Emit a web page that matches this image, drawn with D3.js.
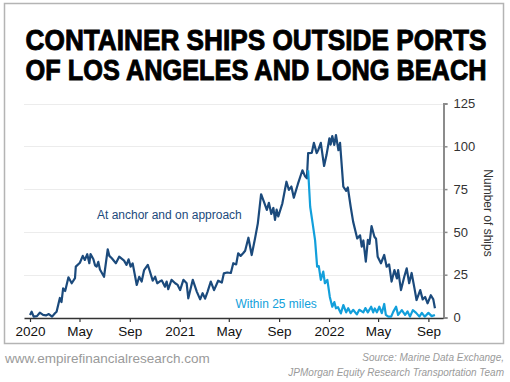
<!DOCTYPE html>
<html>
<head>
<meta charset="utf-8">
<script src="https://cdn.jsdelivr.net/npm/d3@7"></script>
<style>
  html, body { margin: 0; padding: 0; background: #fff; }
  svg { display: block; }
</style>
</head>
<body>
<svg id="chart" width="510" height="382"></svg>
<script>
const titleLines = ["CONTAINER SHIPS OUTSIDE PORTS", "OF LOS ANGELES AND LONG BEACH"];
const yTicks = [0, 25, 50, 75, 100, 125];
const xTickDates = ["2020-01-01","2020-05-01","2020-09-01","2021-01-01","2021-05-01","2021-09-01","2022-01-01","2022-05-01","2022-09-01"];
const xTickLabels = ["2020","May","Sep","2021","May","Sep","2022","May","Sep"];
const seriesNames = ["At anchor and on approach", "Within 25 miles"];
const yAxisTitle = "Number of ships";
const footerLeft = "www.empirefinancialresearch.com";
const footerRight = ["Source: Marine Data Exchange,", "JPMorgan Equity Research Transportation Team"];

const anchorData = [
["2020-01-01",1.5],["2020-01-05",3.4],["2020-01-10",0.5],["2020-01-18",0.8],["2020-01-25",2.8],["2020-02-02",1.5],
["2020-02-09",1.2],["2020-02-16",2.0],["2020-02-24",0.5],["2020-03-02",2.5],["2020-03-06",3.4],["2020-03-14",11.4],
["2020-03-18",9],["2020-03-22",17],["2020-03-27",15.5],["2020-04-04",23.5],["2020-04-12",20],["2020-04-20",23],
["2020-04-22",29.7],["2020-05-02",32],["2020-05-09",36],["2020-05-14",33.6],["2020-05-20",37],["2020-05-25",31.7],
["2020-05-28",37],["2020-06-04",34],["2020-06-08",30.5],["2020-06-12",29.7],["2020-06-16",32.5],["2020-06-20",28],
["2020-06-30",23.8],["2020-07-09",39.8],["2020-07-13",36],["2020-07-19",34.6],["2020-07-29",31.7],["2020-08-06",35.5],
["2020-08-18",33.2],["2020-08-24",30.7],["2020-08-29",34],["2020-09-03",29.7],["2020-09-08",31.6],["2020-09-18",19],
["2020-09-24",23.8],["2020-09-30",21],["2020-10-06",27.7],["2020-10-15",30.7],["2020-10-20",27],["2020-10-27",21.5],
["2020-11-02",23.8],["2020-11-07",20],["2020-11-13",21],["2020-11-18",21.7],["2020-11-26",18],["2020-11-30",21],
["2020-12-04",16.5],["2020-12-12",22],["2020-12-21",20],["2020-12-27",19],["2021-01-02",16],["2021-01-10",22],
["2021-01-18",20],["2021-01-22",11.2],["2021-02-02",22],["2021-02-12",15],["2021-02-20",10.6],["2021-02-26",14.2],
["2021-03-04",11],["2021-03-10",15],["2021-03-18",21],["2021-03-26",16],["2021-04-05",21.5],["2021-04-14",20.4],
["2021-04-19",25.8],["2021-04-27",26.3],["2021-05-06",26],["2021-05-12",31.7],["2021-05-19",31],["2021-05-24",37.5],
["2021-05-30",36],["2021-06-05",37.5],["2021-06-10",39],["2021-06-18",46.6],["2021-06-26",36.5],["2021-07-04",46],
["2021-07-11",55],["2021-07-19",72],["2021-07-26",67.6],["2021-08-02",62.8],["2021-08-07",67],["2021-08-13",60.5],
["2021-08-18",64],["2021-08-22",57],["2021-08-26",63],["2021-08-30",59],["2021-09-09",66.7],["2021-09-19",79.3],
["2021-09-25",74.5],["2021-10-01",76.5],["2021-10-07",70],["2021-10-17",78],["2021-10-28",86],["2021-11-03",82.7],
["2021-11-08",81.3],["2021-11-11",96],["2021-11-20",96.2],["2021-11-25",102],["2021-12-02",96],["2021-12-06",98],
["2021-12-12",102],["2021-12-20",88.5],["2021-12-26",95],["2022-01-02",104.7],["2022-01-05",101],["2022-01-09",106],
["2022-01-14",100.8],["2022-01-18",106.6],["2022-01-24",97.7],["2022-01-28",102],["2022-02-05",76.4],["2022-02-12",74],
["2022-02-16",76],["2022-02-23",64.7],["2022-03-01",56],["2022-03-11",46.2],["2022-03-18",48],["2022-03-22",41.4],
["2022-03-26",45],["2022-04-01",32.6],["2022-04-06",45.3],["2022-04-10",43],["2022-04-15",53.4],["2022-04-22",47.2],
["2022-04-26",46],["2022-04-30",35.5],["2022-05-08",31.7],["2022-05-16",36.5],["2022-05-22",29.7],["2022-05-28",31],
["2022-06-03",21],["2022-06-10",27.7],["2022-06-16",22.8],["2022-06-19",27.7],["2022-06-26",16],["2022-07-04",23.8],
["2022-07-10",28.7],["2022-07-16",20],["2022-07-22",26],["2022-07-29",17],["2022-08-03",10.2],["2022-08-12",16],
["2022-08-18",10.6],["2022-08-24",12],["2022-08-30",8.3],["2022-09-07",13],["2022-09-13",10.6],["2022-09-17",5.4]
];

const nearData = [
["2021-11-11",86],["2021-11-16",64.7],["2021-11-22",55],["2021-11-28",45],["2021-12-03",29.7],["2021-12-07",30],
["2021-12-12",22],["2021-12-18",26.8],["2021-12-22",20],["2021-12-28",22],["2022-01-03",12],["2022-01-09",6.3],
["2022-01-14",9],["2022-01-18",5.4],["2022-01-23",6],["2022-01-30",2.4],["2022-02-05",7.3],["2022-02-12",3],
["2022-02-17",5.4],["2022-02-23",2.5],["2022-03-01",4.5],["2022-03-10",1.8],["2022-03-16",4.5],["2022-03-26",3],
["2022-03-31",5.5],["2022-04-06",3],["2022-04-14",6.3],["2022-04-19",3],["2022-04-23",5.3],["2022-04-28",3],
["2022-05-04",6.3],["2022-05-10",2.5],["2022-05-16",7.9],["2022-05-20",1.5],["2022-05-26",0.5],["2022-06-02",0.5],
["2022-06-07",3.3],["2022-06-14",6.3],["2022-06-19",1.5],["2022-06-28",4.3],["2022-07-06",1.5],["2022-07-12",3.5],
["2022-07-18",0.5],["2022-07-25",4.3],["2022-08-02",2.7],["2022-08-10",0.5],["2022-08-16",2.7],["2022-08-23",0.5],
["2022-09-01",2.7],["2022-09-09",0.8],["2022-09-17",1.5]
];

const colors = { anchor: "#1b4a7c", near: "#129fdb", frame: "#b4b4b4", grid: "#ececec" };

const svg = d3.select("#chart");
const parse = d3.utcParse("%Y-%m-%d");
const FONT = "'Liberation Sans', Arial, sans-serif";

// frame
svg.append("rect").attr("x", 4.5).attr("y", 3.5).attr("width", 499).attr("height", 340)
  .attr("fill", "none").attr("stroke", colors.frame).attr("stroke-width", 1.5);

// title: measured, then horizontally condensed to fit the reference width
const titleWidth = 461;
svg.selectAll("text.title").data(titleLines).join("text")
  .attr("class", "title")
  .attr("x", 0).attr("y", 0)
  .attr("text-anchor", "middle")
  .style("font-family", FONT)
  .style("font-weight", "bold").style("font-size", "29px")
  .attr("fill", "#000").attr("stroke", "#000").attr("stroke-width", 0.9)
  .text(d => d)
  .each(function(d, i) {
    const len = this.getComputedTextLength();
    const sx = titleWidth / len;
    d3.select(this).attr("transform", `translate(256,${50 + i * 30}) scale(${sx},1)`);
  });

// scales
const x0 = d3.scaleUtc().domain([parse("2020-01-01"), parse("2022-01-01")]).range([30, 329]);
const x = d3.scaleUtc().domain([x0.invert(24), x0.invert(443)]).range([24, 443]);
const y = d3.scaleLinear().domain([0, 125]).range([317.5, 103.5]);

// grid
svg.append("g").selectAll("line").data(yTicks.filter(d => d > 0)).join("line")
  .attr("x1", 24).attr("x2", 443)
  .attr("y1", d => Math.round(y(d)) + 0.5).attr("y2", d => Math.round(y(d)) + 0.5)
  .attr("stroke", colors.grid).attr("stroke-width", 1.2);

// y axis right
const yAxis = svg.append("g").attr("transform", "translate(443.5,0)")
  .call(d3.axisRight(y).tickValues(yTicks).tickSize(4).tickPadding(6));
yAxis.select(".domain").attr("stroke", "#8c8c8c").attr("stroke-width", 2);
yAxis.selectAll(".tick line").attr("stroke", "#8c8c8c").attr("stroke-width", 1.5);
yAxis.selectAll("text").style("font-family", FONT)
  .style("font-size", "13px").attr("fill", "#333");

// x axis
const xAxis = svg.append("g").attr("transform", "translate(0,318)")
  .call(d3.axisBottom(x).tickValues(xTickDates.map(parse))
    .tickFormat((d, i) => xTickLabels[i]).tickSize(4).tickPadding(4).tickSizeOuter(0));
xAxis.select(".domain").attr("stroke", "#333").attr("stroke-width", 1.5);
xAxis.selectAll(".tick line").attr("stroke", "#333").attr("stroke-width", 1.2);
xAxis.selectAll("text").style("font-family", FONT)
  .style("font-size", "13.5px").attr("fill", "#111");

// y axis title
svg.append("text")
  .attr("transform", "translate(484,213) rotate(90)")
  .attr("text-anchor", "middle")
  .style("font-family", FONT).style("font-size", "12px")
  .attr("fill", "#333").text(yAxisTitle);

// lines
const line = d3.line().x(d => x(parse(d[0]))).y(d => y(d[1]));
svg.append("path").datum(anchorData).attr("d", line)
  .attr("fill", "none").attr("stroke", colors.anchor).attr("stroke-width", 2.2)
  .attr("stroke-linejoin", "round");
svg.append("path").datum(nearData).attr("d", line)
  .attr("fill", "none").attr("stroke", colors.near).attr("stroke-width", 2.2)
  .attr("stroke-linejoin", "round");

// series labels
svg.append("text").attr("x", 97).attr("y", 219)
  .style("font-family", FONT).style("font-size", "12px")
  .attr("fill", colors.anchor).text(seriesNames[0]);
svg.append("text").attr("x", 235.5).attr("y", 308)
  .style("font-family", FONT).style("font-size", "12px")
  .attr("fill", colors.near).text(seriesNames[1]);

// footer
svg.append("text").attr("x", 5).attr("y", 363)
  .style("font-family", FONT).style("font-size", "13.5px")
  .attr("fill", "#9a9a9a").text(footerLeft);
svg.selectAll("text.src").data(footerRight).join("text").attr("class", "src")
  .attr("x", 504).attr("y", (d, i) => 361 + i * 15)
  .attr("text-anchor", "end")
  .style("font-family", FONT).style("font-size", "10px").style("font-style", "italic")
  .attr("fill", "#9a9a9a").text(d => d);
</script>
</body>
</html>
